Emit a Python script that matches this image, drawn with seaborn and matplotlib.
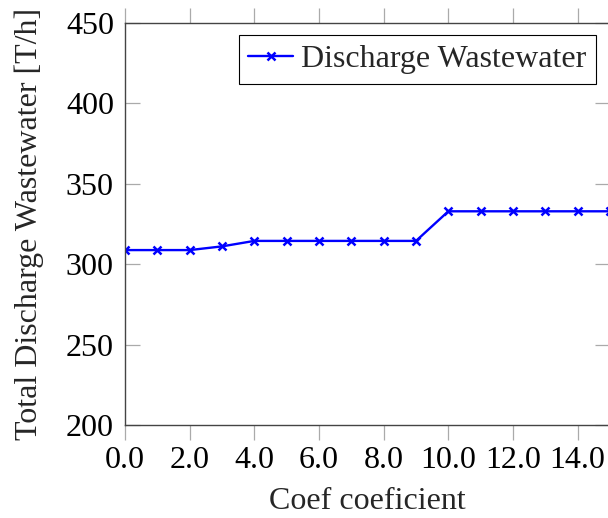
import matplotlib
matplotlib.use("Agg")
import matplotlib.pyplot as plt
import seaborn as sns
import pandas as pd

coef = [0, 1, 2, 3, 4, 5, 6, 7, 8, 9, 10, 11, 12, 13, 14, 15]
discharge = [308.7, 308.7, 308.7, 311.0, 314.4, 314.4, 314.4, 314.4, 314.4, 314.4,
             332.8, 332.8, 332.8, 332.8, 332.8, 332.8]
xticks = [0, 2, 4, 6, 8, 10, 12, 14]
yticks = [200, 250, 300, 350, 400, 450]

sns.set_theme(style="white")
plt.rcParams['font.family'] = ['Liberation Serif', 'DejaVu Serif']
plt.rcParams['mathtext.fontset'] = 'stix'

FS = 23
df = pd.DataFrame({"coef": coef, "val": discharge})

fig = plt.figure(figsize=(6.08, 5.18), dpi=100)
ax = fig.add_axes([125/608, 1 - 425/518, (610 - 125)/608, (425 - 22.7)/518])

sns.lineplot(data=df, x="coef", y="val", ax=ax, color="#0000FF", marker="x",
             markersize=6, markeredgewidth=1.8, markeredgecolor="#0000FF",
             linestyle="-", linewidth=1.7, label="Discharge Wastewater")

ax.set_xlim(0, 15)
ax.set_ylim(200, 450)
ax.set_xticks(xticks)
ax.set_xticklabels([f"{v:.1f}" for v in xticks])
ax.set_yticks(yticks)
ax.set_yticklabels([str(v) for v in yticks])

for s in ax.spines.values():
    s.set_color("#444444")
    s.set_linewidth(1.0)

ax.tick_params(axis="x", which="both", direction="out", length=11, width=0.9,
               color="#aaaaaa", top=True, bottom=True, labelsize=FS, pad=4,
               labelcolor="black")
ax.tick_params(axis="y", which="both", direction="in", length=11, width=0.9,
               color="#aaaaaa", left=True, right=True, labelsize=FS, pad=8,
               labelcolor="black")

ax.set_xlabel("Coef coeficient", fontsize=FS, labelpad=9)
ax.set_ylabel("Total Discharge Wastewater [T/h]", fontsize=FS, labelpad=16)

leg = ax.legend(loc="upper right", bbox_to_anchor=((596 - 125)/485, 1 - (35 - 22.7)/402.3),
                fontsize=FS, frameon=True, fancybox=False, framealpha=1,
                edgecolor="black", handlelength=1.4, handletextpad=0.25,
                borderpad=0.3, borderaxespad=0)
leg.get_frame().set_linewidth(0.8)

fig.savefig("out.png", dpi=100)
